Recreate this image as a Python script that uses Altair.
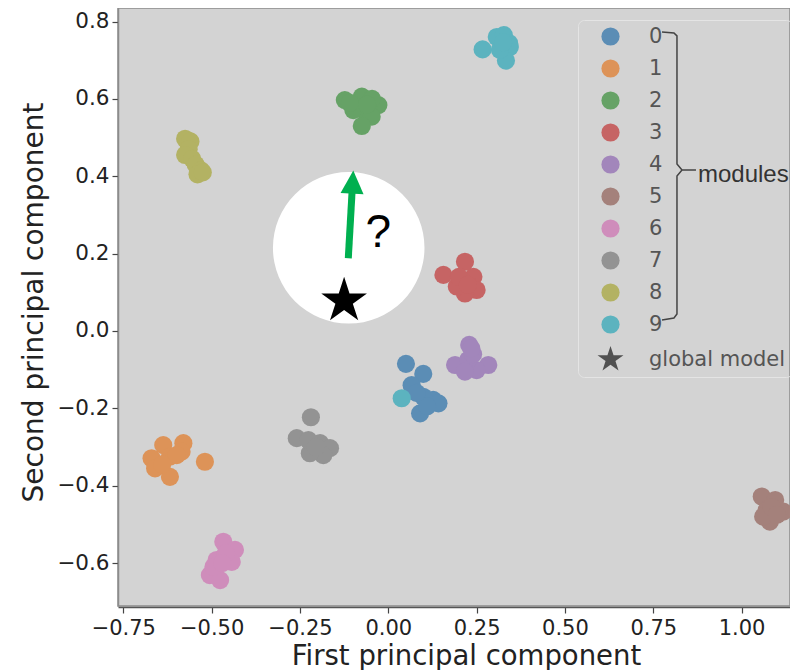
import altair as alt
import pandas as pd

# ---------------- data ----------------
MODULES = ["0", "1", "2", "3", "4", "5", "6", "7", "8", "9"]
COLORS = ["#5b8db5", "#dd9358", "#66a266", "#c66464", "#a286bb",
          "#a4817b", "#cf8dbb", "#939393", "#b3b263", "#5cb3bf"]

pc1_m0 = [0.050, 0.099, 0.071, 0.066, 0.127, 0.142, 0.090, 0.099, 0.110, 0.080]
pc2_m0 = [-0.085, -0.111, -0.153, -0.140, -0.178, -0.187, -0.213, -0.170, -0.195, -0.160]
pc1_m1 = [-0.670, -0.637, -0.580, -0.585, -0.618, -0.660, -0.519, -0.618, -0.599, -0.640]
pc2_m1 = [-0.329, -0.295, -0.290, -0.312, -0.377, -0.355, -0.338, -0.325, -0.321, -0.345]
pc1_m2 = [-0.123, -0.075, -0.028, -0.071, -0.047, -0.075, -0.099, -0.046, -0.109, -0.060]
pc2_m2 = [0.597, 0.606, 0.584, 0.571, 0.554, 0.530, 0.571, 0.600, 0.590, 0.585]
pc1_m3 = [0.156, 0.217, 0.241, 0.250, 0.217, 0.194, 0.200, 0.225]
pc2_m3 = [0.145, 0.179, 0.140, 0.106, 0.097, 0.115, 0.140, 0.120]
pc1_m4 = [0.229, 0.189, 0.283, 0.250, 0.226, 0.217, 0.240, 0.235]
pc2_m4 = [-0.036, -0.088, -0.088, -0.101, -0.075, -0.105, -0.060, -0.045]
pc1_m5 = [1.057, 1.095, 1.118, 1.071, 1.080, 1.061, 1.085, 1.100]
pc2_m5 = [-0.428, -0.437, -0.467, -0.463, -0.493, -0.480, -0.455, -0.475]
pc1_m6 = [-0.467, -0.434, -0.486, -0.443, -0.505, -0.476, -0.495, -0.460, -0.470]
pc2_m6 = [-0.545, -0.566, -0.592, -0.597, -0.631, -0.644, -0.610, -0.575, -0.600]
pc1_m7 = [-0.219, -0.259, -0.193, -0.165, -0.184, -0.222, -0.226, -0.205]
pc2_m7 = [-0.223, -0.277, -0.290, -0.303, -0.321, -0.316, -0.282, -0.300]
pc1_m8 = [-0.575, -0.560, -0.565, -0.575, -0.555, -0.545, -0.530, -0.540, -0.525]
pc2_m8 = [0.497, 0.490, 0.470, 0.455, 0.445, 0.430, 0.415, 0.405, 0.410]
pc1_m9 = [0.267, 0.307, 0.327, 0.342, 0.344, 0.333, 0.316, 0.325, 0.038]
pc2_m9 = [0.728, 0.760, 0.765, 0.744, 0.734, 0.699, 0.727, 0.746, -0.174]

PC1 = [pc1_m0, pc1_m1, pc1_m2, pc1_m3, pc1_m4, pc1_m5, pc1_m6, pc1_m7, pc1_m8, pc1_m9]
PC2 = [pc2_m0, pc2_m1, pc2_m2, pc2_m3, pc2_m4, pc2_m5, pc2_m6, pc2_m7, pc2_m8, pc2_m9]

GLOBAL_LABEL = "global model"
GLOBAL_X = [-0.125]
GLOBAL_Y = [0.078]

# annotation (inset circle, arrow, "?", brace, "modules") in data units
INSET_X = [-0.112]
INSET_Y = [0.215]
ARROW_X = [-0.1132]
ARROW_Y = [0.188]
ARROW_X2 = [-0.1025]
ARROW_Y2 = [0.360]
HEAD_X = [-0.1008]
HEAD_Y = [0.385]
QMARK_X = [-0.028]
QMARK_Y = [0.217]
BRACE_X = [0.7747, 0.8086, 0.8171, 0.8171, 0.8313, 0.8709, 0.8313, 0.8171, 0.8171, 0.8086, 0.7747]
BRACE_Y = [0.7732, 0.7706, 0.7628, 0.4319, 0.4163, 0.4163, 0.4163, 0.4008, 0.0440, 0.0336, 0.0284]
MODULES_TEXT_X = [0.8766]
MODULES_TEXT_Y = [0.3853]

X_TICKS = [-0.75, -0.5, -0.25, 0.0, 0.25, 0.5, 0.75, 1.0]
Y_TICKS = [-0.6, -0.4, -0.2, 0.0, 0.2, 0.4, 0.6, 0.8]
X_DOMAIN = [-0.765, 1.137]
Y_DOMAIN = [-0.711, 0.835]

# ---------------- tables ----------------
rows = []
for m, xs, ys in zip(MODULES, PC1, PC2):
    for a, b in zip(xs, ys):
        rows.append({"x": a, "y": b, "module": m})
pts = pd.DataFrame(rows)

STAR = ("M0,-1.5L0.3368,-0.4635L1.4265,-0.4635L0.5445,0.177L0.882,1.2135"
        "L0,0.573L-0.882,1.2135L-0.5445,0.177L-1.4265,-0.4635L-0.3368,-0.4635Z")
TRI = "M0,-1L1,1L-1,1Z"

FONT = "DejaVu Sans"
xscale = alt.Scale(domain=X_DOMAIN, nice=False, zero=False)
yscale = alt.Scale(domain=Y_DOMAIN, nice=False, zero=False)

xaxis = alt.Axis(values=X_TICKS, format=".2f", title="First principal component",
                 grid=False, labelFont=FONT, labelFontSize=21, labelColor="#222222",
                 titleFont=FONT, titleFontSize=27.5, titleFontWeight="normal",
                 titleColor="#222222", tickSize=6, tickColor="#444444", tickWidth=1.2,
                 domainColor="#555555", domainWidth=1.5, labelPadding=4,
                 titlePadding=4, labelFlush=False, offset=1, titleX=348)
yaxis = alt.Axis(values=Y_TICKS, format=".1f", title="Second principal component",
                 grid=False, labelFont=FONT, labelFontSize=21.5, labelColor="#222222",
                 titleFont=FONT, titleFontSize=28, titleFontWeight="normal",
                 titleColor="#222222", tickSize=6, tickColor="#444444", tickWidth=1.2,
                 domainColor="#8c8c8c", domainWidth=1.5, labelPadding=3,
                 titlePadding=8, labelFlush=False, titleY=294)

legend = alt.Legend(title=None, orient="none", legendX=460, legendY=12,
                    padding=6, rowPadding=10, symbolOffset=16, labelOffset=28,
                    labelFont=FONT, labelFontSize=21, labelColor="#555555",
                    symbolSize=330, symbolStrokeWidth=0, symbolOpacity=1,
                    strokeColor="#e4e4e4", cornerRadius=6, labelLimit=400)

domain_all = MODULES + [GLOBAL_LABEL]

points = alt.Chart(pts).mark_point(filled=True, opacity=1, size=330, strokeWidth=0).encode(
    x=alt.X("x:Q", scale=xscale, axis=xaxis),
    y=alt.Y("y:Q", scale=yscale, axis=yaxis),
    color=alt.Color("module:N", scale=alt.Scale(domain=domain_all, range=COLORS + ["#505050"]),
                    legend=legend, sort=domain_all),
    shape=alt.Shape("module:N", scale=alt.Scale(domain=domain_all, range=["circle"] * 10 + [STAR]),
                    legend=legend, sort=domain_all),
)

inset = alt.Chart(pd.DataFrame({"x": INSET_X, "y": INSET_Y})).mark_circle(
    size=22966, color="white", opacity=1).encode(
    x=alt.X("x:Q", scale=xscale), y=alt.Y("y:Q", scale=yscale))

star = alt.Chart(pd.DataFrame({"x": GLOBAL_X, "y": GLOBAL_Y})).mark_point(
    filled=True, shape=STAR, size=1024, color="black", opacity=1, strokeWidth=0).encode(
    x=alt.X("x:Q", scale=xscale), y=alt.Y("y:Q", scale=yscale))

shaft = alt.Chart(pd.DataFrame({"x": ARROW_X, "y": ARROW_Y, "x2": ARROW_X2, "y2": ARROW_Y2})).mark_rule(
    color="#00b050", strokeWidth=7).encode(
    x=alt.X("x:Q", scale=xscale), y=alt.Y("y:Q", scale=yscale), x2="x2:Q", y2="y2:Q")

head = alt.Chart(pd.DataFrame({"x": HEAD_X, "y": HEAD_Y})).mark_point(
    filled=True, shape=TRI, size=529, angle=3, color="#00b050", opacity=1, strokeWidth=0).encode(
    x=alt.X("x:Q", scale=xscale), y=alt.Y("y:Q", scale=yscale))

qmark = alt.Chart(pd.DataFrame({"x": QMARK_X, "y": QMARK_Y, "t": ["?"]})).mark_text(
    font="Liberation Sans", fontSize=46, color="black", align="center", baseline="alphabetic").encode(
    x=alt.X("x:Q", scale=xscale), y=alt.Y("y:Q", scale=yscale), text="t:N")

brace = alt.Chart(pd.DataFrame({"x": BRACE_X, "y": BRACE_Y, "i": list(range(len(BRACE_X)))})).mark_line(
    color="#444444", strokeWidth=1.5).encode(
    x=alt.X("x:Q", scale=xscale), y=alt.Y("y:Q", scale=yscale), order="i:Q")

modules_text = alt.Chart(pd.DataFrame({"x": MODULES_TEXT_X, "y": MODULES_TEXT_Y, "t": ["modules"]})).mark_text(
    font="Liberation Sans", fontSize=24, color="#333333", align="left", baseline="alphabetic").encode(
    x=alt.X("x:Q", scale=xscale), y=alt.Y("y:Q", scale=yscale), text="t:N")

chart = alt.layer(points, inset, star, shaft, head, qmark, brace, modules_text).properties(
    width=672, height=598,
    autosize=alt.AutoSizeParams(type="none"),
    padding={"left": 110, "top": 0, "right": 0, "bottom": 64},
    background="white",
).configure_view(fill="#d3d3d3", stroke="#8c8c8c", strokeWidth=1.5)

chart.save("out.html", embed_options={"renderer": "svg", "actions": False})
